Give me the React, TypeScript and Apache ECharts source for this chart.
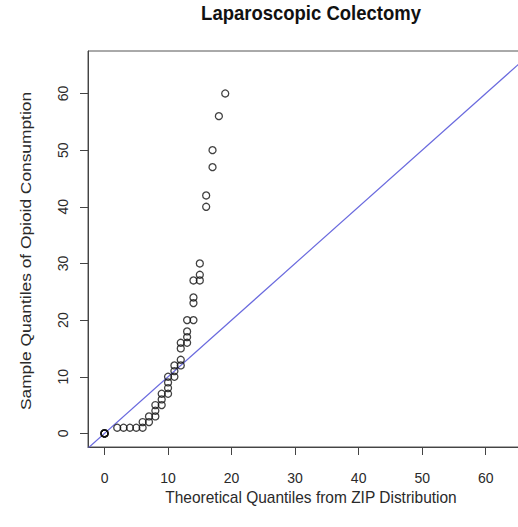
import React, { useEffect, useRef } from "react";
import * as echarts from "echarts";

// Theoretical quantiles (ZIP distribution) and sample quantiles of opioid consumption
const theoQuantiles = [0, 0, 0, 0, 0, 2, 3, 4, 5, 6, 6, 7, 7, 8, 8, 8, 9, 9, 9, 10, 10, 10, 10, 11, 11, 11, 12, 12, 12, 12, 13, 13, 13, 13, 14, 14, 14, 14, 15, 15, 15, 16, 16, 17, 17, 18, 19];
const sampleQuantiles = [0, 0, 0, 0, 0, 1, 1, 1, 1, 1, 2, 2, 3, 3, 4, 5, 5, 6, 7, 7, 8, 9, 10, 10, 11, 12, 12, 13, 15, 16, 16, 17, 18, 20, 20, 23, 24, 27, 27, 28, 30, 40, 42, 47, 50, 56, 60];
const tickValues = [0, 10, 20, 30, 40, 50, 60];
const refLineEnds = [-10, 80]; // identity line y = x

const TITLE = "Laparoscopic Colectomy";
const X_TITLE = "Theoretical Quantiles from ZIP Distribution";
const Y_TITLE = "Sample Quantiles of Opioid Consumption";

const FONT = "'Liberation Sans', Arial, sans-serif";

export default function App() {
  const ref = useRef<HTMLDivElement>(null);
  useEffect(() => {
    if (!ref.current) return;
    const chart = echarts.init(ref.current, null, { renderer: "svg" });
    const points = theoQuantiles.map((x, i) => [x, sampleQuantiles[i]]);
    const axisCommon = {
      type: "value" as const,
      splitLine: { show: false },
      axisLine: { show: true, onZero: false, lineStyle: { color: "#444", width: 1 } },
      axisTick: { show: true, customValues: tickValues, length: 8, lineStyle: { color: "#444", width: 1 } },
    };
    chart.setOption({
      animation: false,
      backgroundColor: "#ffffff",
      grid: { left: 88, top: 51, width: 446, height: 396, show: true, borderColor: "#555", borderWidth: 1 },
      xAxis: {
        ...axisCommon,
        min: -2.6,
        max: 67.6,
        axisLabel: { customValues: tickValues, margin: 24, fontSize: 14, color: "#2a2a2a", fontFamily: FONT },
      },
      yAxis: {
        ...axisCommon,
        min: -2.4,
        max: 67.5,
        axisLabel: { customValues: tickValues, rotate: 90, margin: 18, fontSize: 14, color: "#2a2a2a", fontFamily: FONT },
      },
      graphic: [
        {
          type: "text",
          x: 311,
          y: 13,
          scaleY: 1.12,
          style: {
            text: TITLE,
            fontSize: 18.5,
            fontWeight: "bold",
            fontFamily: FONT,
            fill: "#111",
            align: "center",
            textAlign: "center",
            verticalAlign: "middle",
            textVerticalAlign: "middle",
          },
        },
        {
          type: "text",
          x: 311,
          y: 497,
          scaleY: 1.12,
          style: {
            text: X_TITLE,
            fontSize: 15.5,
            fontFamily: FONT,
            fill: "#2a2a2a",
            align: "center",
            textAlign: "center",
            verticalAlign: "middle",
            textVerticalAlign: "middle",
          },
        },
        {
          type: "text",
          x: 25,
          y: 251,
          rotation: Math.PI / 2,
          scaleX: 1.12,
          style: {
            text: Y_TITLE,
            fontSize: 15.5,
            fontFamily: FONT,
            fill: "#2a2a2a",
            align: "center",
            textAlign: "center",
            verticalAlign: "middle",
            textVerticalAlign: "middle",
          },
        },
      ],
      series: [
        {
          type: "line",
          data: refLineEnds.map((v) => [v, v]),
          symbol: "none",
          clip: true,
          lineStyle: { color: "#6a6ade", width: 1.2 },
          silent: true,
          z: 1,
        },
        {
          type: "scatter",
          data: points,
          symbol: "circle",
          symbolSize: 7,
          itemStyle: { color: "rgba(0,0,0,0)", borderColor: "#111", borderWidth: 1.3 },
          z: 2,
        },
      ],
    });
    return () => chart.dispose();
  }, []);
  return (
    <div style={{ position: "fixed", left: 0, top: 0, width: 518, height: 527, overflow: "hidden", background: "#fff" }}>
      <div ref={ref} style={{ width: 560, height: 527 }} />
    </div>
  );
}
